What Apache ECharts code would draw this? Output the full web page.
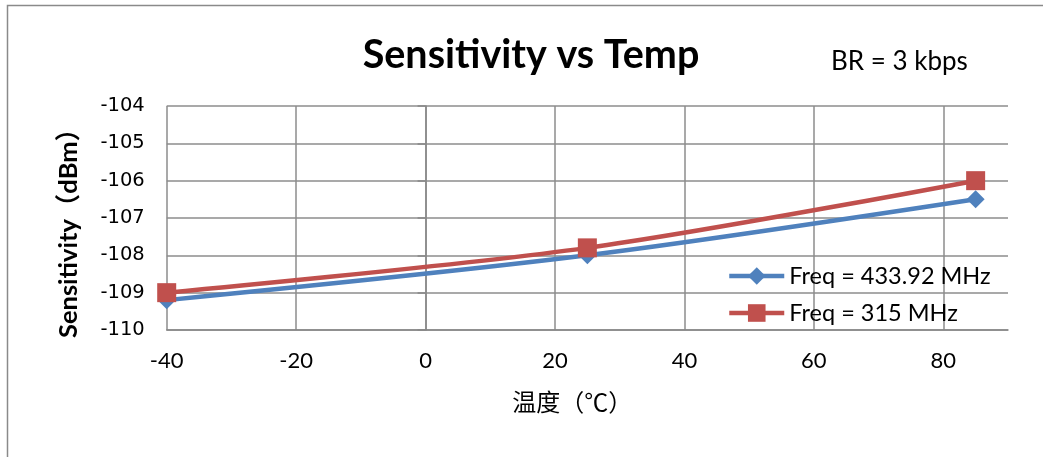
<!DOCTYPE html>
<html>
<head>
<meta charset="utf-8">
<script src="https://cdn.jsdelivr.net/npm/echarts@6/dist/echarts.min.js"></script>
<style>html,body{margin:0;padding:0;background:#fff;}#c{width:1043px;height:457px;}</style>
</head>
<body>
<div id="c"></div>
<script>
var temps = [-40, 25, 85];
var sens433 = [-109.2, -108.0, -106.5];
var sens315 = [-109.0, -107.8, -106.0];
var seriesNames = ['Freq = 433.92 MHz', 'Freq = 315 MHz'];
var titleText = 'Sensitivity vs Temp';
var subText = 'BR = 3 kbps';
var xName = '温度（℃）';
var yName = 'Sensitivity（dBm）';

function pairs(xs, ys) { return xs.map(function (x, i) { return [x, ys[i]]; }); }

var chart = echarts.init(document.getElementById('c'));
chart.setOption({
  animation: false,
  backgroundColor: '#fff',
  graphic: [{
    type: 'rect', shape: { x: 7.5, y: 5.5, width: 1100, height: 600 },
    style: { fill: 'none', stroke: '#8a8a8a', lineWidth: 1.5 }, silent: true
  }],
  title: [{
    text: titleText, left: 526, top: 30, textAlign: 'center',
    textStyle: { fontFamily: 'Lato', fontWeight: 'bold', fontSize: 39.5, color: '#000' }
  }, {
    text: subText, left: 826, top: 44,
    textStyle: { fontFamily: 'Lato', fontWeight: 'normal', fontSize: 26, color: '#000' }
  }],
  grid: { left: 166.7, right: 35, top: 106, bottom: 127, containLabel: false },
  legend: {
    orient: 'vertical', left: 727, top: 264, padding: 0,
    itemWidth: 55, itemHeight: 22, itemGap: 13,
    textStyle: { fontFamily: 'Lato', fontSize: 23.5, color: '#000' },
    lineStyle: { width: 4.5 },
    data: seriesNames
  },
  xAxis: {
    type: 'value', min: -40, max: 90, interval: 20,
    name: xName, nameLocation: 'middle', nameGap: 60,
    nameTextStyle: { fontFamily: 'Noto Sans CJK SC', fontSize: 24, color: '#000', padding: [0, 30, 0, 0] },
    axisLine: { show: true, lineStyle: { color: '#888', width: 1.5 } },
    axisTick: { show: false },
    axisLabel: { showMaxLabel: false, margin: 20, fontFamily: 'Lato', fontSize: 22, color: '#000' },
    splitLine: { show: true, showMaxLine: false, lineStyle: { color: '#8c8c8c', width: 1.5 } }
  },
  yAxis: {
    type: 'value', min: -110, max: -104, interval: 1,
    name: yName, nameLocation: 'middle', nameGap: 85, nameRotate: 90,
    nameTextStyle: { fontFamily: 'Lato, Noto Sans CJK SC', fontWeight: 'bold', fontSize: 25.5, color: '#000', padding: [0, 18, 0, 0] },
    axisLine: { show: true, lineStyle: { color: '#888', width: 1.5 } },
    axisTick: { show: true, length: 8, lineStyle: { color: '#888', width: 1.5 } },
    axisLabel: { margin: 22, fontFamily: 'DejaVu Sans', fontSize: 19.5, color: '#000' },
    splitLine: { show: true, lineStyle: { color: '#8c8c8c', width: 1.5 } }
  },
  series: [{
    name: seriesNames[0], type: 'line', smooth: 0.3,
    data: pairs(temps, sens433),
    symbol: 'diamond', symbolSize: 18,
    itemStyle: { color: '#4F81BD' },
    lineStyle: { color: '#4F81BD', width: 4.5 }
  }, {
    name: seriesNames[1], type: 'line', smooth: 0.3,
    data: pairs(temps, sens315),
    symbol: 'rect', symbolSize: 19,
    itemStyle: { color: '#C0504D' },
    lineStyle: { color: '#C0504D', width: 4.5 }
  }]
});
</script>
</body>
</html>
